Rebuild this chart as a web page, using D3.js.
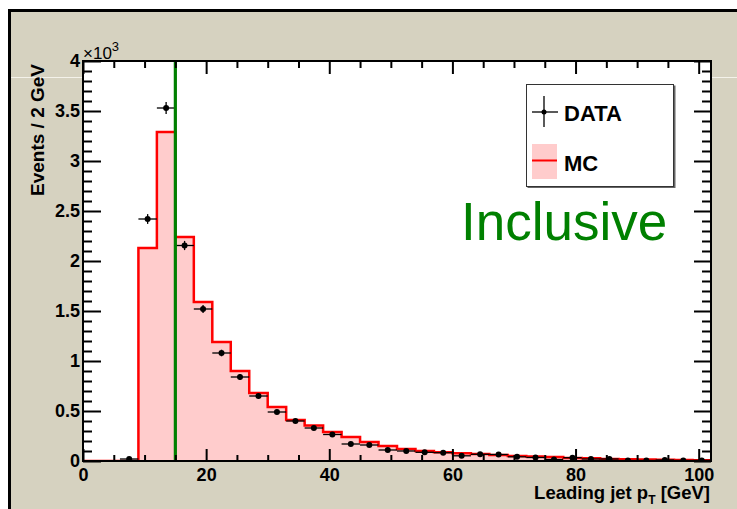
<!DOCTYPE html>
<html>
<head>
<meta charset="utf-8">
<script src="https://cdn.jsdelivr.net/npm/d3@7"></script>
<style>
  body { margin: 0; background: #fff; }
  svg { display: block; font-family: "Liberation Sans", Arial, Helvetica, sans-serif; }
</style>
</head>
<body>
<svg width="737" height="509"></svg>
<script>
// MC histogram: 3 GeV bins, low edges and expected events
const mcLowEdges = [0, 3, 6, 9, 12, 15, 18, 21, 24, 27, 30, 33, 36, 39, 42, 45, 48,
                    51, 54, 57, 60, 63, 66, 69, 72, 75, 78, 81, 84, 87, 90, 93, 96, 99];
const mcCounts = [0, 0, 0, 2130, 3290, 2240, 1590, 1190, 900, 680, 540, 410, 355, 290, 240, 190, 150,
                  120, 100, 87, 77, 70, 60, 50, 45, 40, 30, 27, 20, 17, 14, 12, 10, 8];
const binWidth = 3;

// DATA points at bin centres
const dataCenters = [7.5, 10.5, 13.5, 16.5, 19.5, 22.5, 25.5, 28.5, 31.5, 34.5, 37.5, 40.5,
                     43.5, 46.5, 49.5, 52.5, 55.5, 58.5, 61.5, 64.5, 67.5, 70.5, 73.5, 76.5,
                     79.5, 82.5, 85.5, 88.5, 91.5, 94.5, 97.5, 100.5];
const dataCounts = [20, 2420, 3530, 2155, 1520, 1080, 840, 650, 490, 400, 330, 265,
                    170, 160, 110, 100, 87, 83, 52, 67, 65, 42, 35, 15,
                    33, 20, 20, 5, 5, 10, 5, 6];
const dataErrors = [4, 49, 59, 46, 39, 33, 29, 25, 22, 20, 18, 16,
                    13, 13, 10, 10, 9, 9, 7, 8, 8, 6, 6, 4,
                    6, 4, 4, 2, 2, 3, 2, 2];

const xMajorTicks = [0, 20, 40, 60, 80, 100];
const yMajorTicks = [0, 500, 1000, 1500, 2000, 2500, 3000, 3500, 4000];
const yTickLabels = ["0", "0.5", "1", "1.5", "2", "2.5", "3", "3.5", "4"];
const cutValue = 15;

const svg = d3.select("svg");
const plot = { left: 83, top: 61, right: 711, bottom: 461 };

const x = d3.scaleLinear().domain([0, 102]).range([plot.left, plot.right]);
const y = d3.scaleLinear().domain([0, 4000]).range([plot.bottom, plot.top]);

// beige canvas with black frame on top/left
svg.append("rect").attr("x", 8).attr("y", 9).attr("width", 740).attr("height", 510)
  .attr("fill", "#d6d2c0");
svg.append("path").attr("d", "M9.5,520 V10.5 H740")
  .attr("fill", "none").attr("stroke", "#000").attr("stroke-width", 3);
// faint guide line
svg.append("line").attr("x1", 11).attr("x2", 737).attr("y1", 77.5).attr("y2", 77.5)
  .attr("stroke", "#f4f2ea").attr("stroke-width", 1);

// plot area
svg.append("rect").attr("x", plot.left).attr("y", plot.top)
  .attr("width", plot.right - plot.left).attr("height", plot.bottom - plot.top)
  .attr("fill", "#fff");

svg.append("clipPath").attr("id", "clip").append("rect")
  .attr("x", plot.left).attr("y", plot.top)
  .attr("width", plot.right - plot.left).attr("height", plot.bottom - plot.top);

const g = svg.append("g").attr("clip-path", "url(#clip)");

// MC histogram
const mcPts = mcLowEdges.map((lo, i) => [lo, mcCounts[i]]);
mcPts.push([mcLowEdges[mcLowEdges.length - 1] + binWidth, mcCounts[mcCounts.length - 1]]);

g.append("path").datum(mcPts)
  .attr("fill", "#ffcccc")
  .attr("d", d3.area().curve(d3.curveStepAfter)
    .x(d => x(d[0])).y0(y(0)).y1(d => y(d[1])));

g.append("path").datum(mcPts)
  .attr("fill", "none").attr("stroke", "#ff0000").attr("stroke-width", 2.5)
  .attr("d", d3.line().curve(d3.curveStepAfter).x(d => x(d[0])).y(d => y(d[1])));

// DATA points
const pts = dataCenters.map((c, i) => ({ c, v: dataCounts[i], e: dataErrors[i] }));
const pg = g.append("g");
pg.selectAll(".hbar").data(pts).enter().append("line")
  .attr("x1", d => x(d.c - binWidth / 2)).attr("x2", d => x(d.c + binWidth / 2))
  .attr("y1", d => y(d.v)).attr("y2", d => y(d.v))
  .attr("stroke", "#000").attr("stroke-width", 1.3);
pg.selectAll(".vbar").data(pts).enter().append("line")
  .attr("x1", d => x(d.c)).attr("x2", d => x(d.c))
  .attr("y1", d => y(d.v - d.e)).attr("y2", d => y(d.v + d.e))
  .attr("stroke", "#000").attr("stroke-width", 1.3);
pg.selectAll(".dot").data(pts).enter().append("circle")
  .attr("cx", d => x(d.c)).attr("cy", d => y(d.v)).attr("r", 3)
  .attr("fill", "#000");

// cut line
g.append("line").attr("x1", x(cutValue)).attr("x2", x(cutValue))
  .attr("y1", plot.top).attr("y2", plot.bottom)
  .attr("stroke", "#008000").attr("stroke-width", 3.2);

// axes
const fontTick = "bold 18px 'Liberation Sans', Arial, sans-serif";
function styleAxis(sel) {
  sel.select(".domain").remove();
  sel.selectAll("line").attr("stroke", "#000").attr("stroke-width", 2);
  sel.selectAll("text").style("font", fontTick).attr("fill", "#000");
}
const xMinorTicks = d3.range(0, 101, 5).filter(v => v % 20 !== 0);
const yMinorTicks = d3.range(0, 4001, 100).filter(v => v % 500 !== 0);

svg.append("g").attr("transform", `translate(0,${plot.bottom})`)
  .call(d3.axisBottom(x).tickValues(xMajorTicks).tickSize(-12).tickPadding(7).tickFormat(d3.format("d")))
  .call(styleAxis);
svg.append("g").attr("transform", `translate(0,${plot.bottom})`)
  .call(d3.axisBottom(x).tickValues(xMinorTicks).tickSize(-6).tickFormat(""))
  .call(styleAxis);
svg.append("g").attr("transform", `translate(0,${plot.top})`)
  .call(d3.axisTop(x).tickValues(xMajorTicks).tickSize(-13).tickFormat(""))
  .call(styleAxis);
svg.append("g").attr("transform", `translate(0,${plot.top})`)
  .call(d3.axisTop(x).tickValues(xMinorTicks).tickSize(-7).tickFormat(""))
  .call(styleAxis);

svg.append("g").attr("transform", `translate(${plot.left},0)`)
  .call(d3.axisLeft(y).tickValues(yMajorTicks).tickSize(-18).tickPadding(3)
    .tickFormat((d, i) => yTickLabels[i]))
  .call(styleAxis);
svg.append("g").attr("transform", `translate(${plot.left},0)`)
  .call(d3.axisLeft(y).tickValues(yMinorTicks).tickSize(-9).tickFormat(""))
  .call(styleAxis);
svg.append("g").attr("transform", `translate(${plot.right},0)`)
  .call(d3.axisRight(y).tickValues(yMajorTicks).tickSize(-17).tickFormat(""))
  .call(styleAxis);
svg.append("g").attr("transform", `translate(${plot.right},0)`)
  .call(d3.axisRight(y).tickValues(yMinorTicks).tickSize(-9).tickFormat(""))
  .call(styleAxis);

// frame
svg.append("rect").attr("x", plot.left).attr("y", plot.top)
  .attr("width", plot.right - plot.left).attr("height", plot.bottom - plot.top)
  .attr("fill", "none").attr("stroke", "#000").attr("stroke-width", 2);

// exponent label
const expo = svg.append("text").attr("x", 83).attr("y", 59)
  .style("font", "17px 'Liberation Sans', Arial, sans-serif");
expo.append("tspan").text("\u00d710");
expo.append("tspan").attr("dy", -8).style("font-size", "13px").text("3");

// axis titles
svg.append("text")
  .attr("transform", "translate(44,64) rotate(-90)")
  .attr("text-anchor", "end")
  .style("font", "bold 19px 'Liberation Sans', Arial, sans-serif")
  .text("Events / 2 GeV");

const xt = svg.append("text").attr("x", 710).attr("y", 499).attr("text-anchor", "end")
  .style("font", "bold 18.5px 'Liberation Sans', Arial, sans-serif");
xt.append("tspan").text("Leading jet p");
xt.append("tspan").attr("dy", 5).style("font-size", "12px").text("T");
xt.append("tspan").attr("dy", -5).text(" [GeV]");

// legend
const lg = svg.append("g");
lg.append("rect").attr("x", 527.5).attr("y", 85.5).attr("width", 148).attr("height", 102.5).attr("fill", "#666");
lg.append("rect").attr("x", 526.5).attr("y", 84.5).attr("width", 147).attr("height", 102)
  .attr("fill", "#fff").attr("stroke", "#333").attr("stroke-width", 1);
lg.append("line").attr("x1", 544).attr("x2", 544).attr("y1", 96).attr("y2", 127)
  .attr("stroke", "#000").attr("stroke-width", 1.3);
lg.append("line").attr("x1", 532).attr("x2", 558).attr("y1", 112).attr("y2", 112)
  .attr("stroke", "#000").attr("stroke-width", 1.3);
lg.append("circle").attr("cx", 544).attr("cy", 112).attr("r", 2.5).attr("fill", "#000");
lg.append("rect").attr("x", 532).attr("y", 144).attr("width", 25).attr("height", 35).attr("fill", "#ffcccc");
lg.append("line").attr("x1", 532).attr("x2", 557).attr("y1", 160.5).attr("y2", 160.5)
  .attr("stroke", "#ff0000").attr("stroke-width", 2);
lg.append("text").attr("x", 564).attr("y", 120.5)
  .style("font", "bold 22px 'Liberation Sans', Arial, sans-serif").text("DATA");
lg.append("text").attr("x", 564).attr("y", 170.5)
  .style("font", "bold 22px 'Liberation Sans', Arial, sans-serif").text("MC");

// annotation
svg.append("text").attr("x", 461).attr("y", 240)
  .style("font", "53px 'Liberation Sans', Arial, sans-serif")
  .attr("fill", "#008000").text("Inclusive");
</script>
</body>
</html>
